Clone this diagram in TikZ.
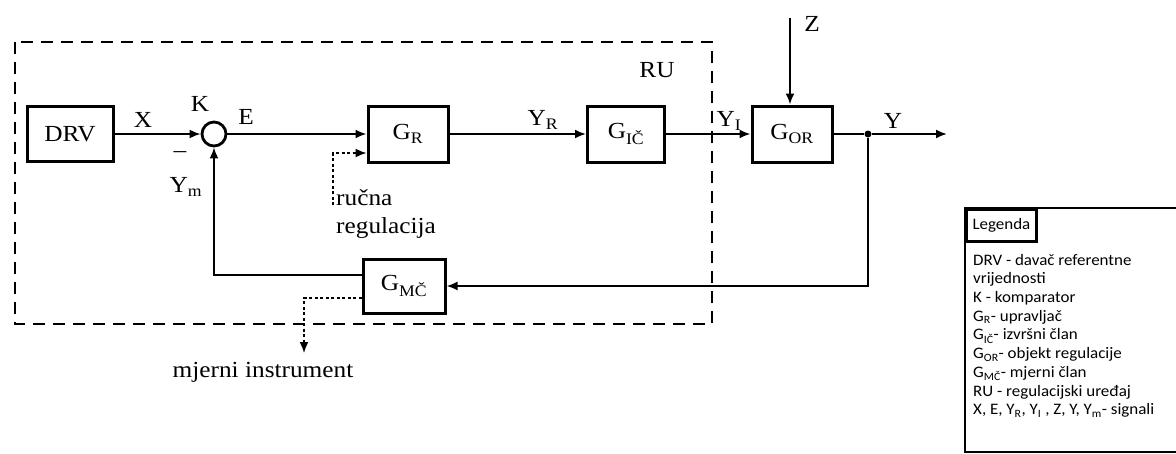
\documentclass[tikz,border=0pt]{standalone}
\usepackage{fontspec}
\setmainfont{Liberation Serif}[FakeStretch=1.1]
\newfontfamily\legfont{Carlito}[FakeStretch=1.06]
\usetikzlibrary{arrows.meta}
\newcommand\mysub[1]{\textsubscript{#1}}
\begin{document}
\begin{tikzpicture}[x=1pt,y=-1pt,
  every node/.style={font=\fontsize{23}{27}\selectfont},
  blk/.style={draw, line width=3pt, inner sep=0pt, minimum width=80pt, minimum height=56pt},
  conn/.style={line width=1.9pt},
  arr/.style={conn, -{Latex[length=11pt,width=9pt]}},
  dotarr/.style={line width=1.6pt, dash pattern=on 3pt off 2.5pt, -{Latex[length=11pt,width=9pt]}},
  lbl/.style={inner sep=0pt},
  legtxt/.style={inner sep=0pt, anchor=base west, font=\legfont\fontsize{16}{18}\selectfont}
]
\useasboundingbox (0,0) rectangle (1176,453);
\fill[white] (0,0) rectangle (1176,453);

% RU boundary
\draw[line width=2.8pt, dash pattern=on 12pt off 8pt] (15,42) rectangle (712,324);
\node[lbl] (ru) at (657,70) {RU};

% blocks
\node[blk, minimum width=86pt, minimum height=55pt] (drv) at (70,134) {DRV};
\node[draw, circle, line width=2.8pt, minimum size=24pt, inner sep=0pt] (k) at (214,134) {};
\node[blk] (gr) at (408,134) {G\mysub{R}};
\node[blk, minimum width=77pt] (gic) at (626,134) {G\mysub{IČ}};
\node[blk] (gor) at (792,134) {G\mysub{OR}};
\node[blk, minimum width=82pt, minimum height=54pt] (gmc) at (404,286) {G\mysub{MČ}};
\node[circle, fill, inner sep=0pt, minimum size=7pt] (j) at (868,134) {};

\coordinate (z) at (790,18);
\coordinate (yend) at (947,134);
\coordinate (man) at (333,205);
\coordinate (miend) at (304,353);

% connectors
\draw[arr] (drv.east) -- (k.west);
\draw[arr] (k.east) -- (gr.west);
\draw[arr] (gr.east) -- (gic.west);
\draw[arr] (gic.east) -- (gor.west);
\draw[arr] (z) -- (z |- gor.north);
\draw[conn] (gor.east) -- (j);
\draw[arr] (j) -- (yend);
\draw[arr] (j) |- (gmc.east);
\draw[arr] ([yshift=11pt]gmc.west) -| (k.south);
\draw[dotarr] (man) |- ([yshift=-19pt]gr.west);
\draw[dotarr] ([yshift=-12pt]gmc.west) -| (miend);

% labels
\node[lbl] (lx) at (143,120) {X};
\node[lbl] (lk) at (200,104) {K};
\node[lbl] (le) at (246,117) {E};
\node[lbl] (lminus) at (180,155) {\textendash};
\node[lbl] (lym) at (186,187) {Y\mysub{m}};
\node[lbl] (lyr) at (543,120) {Y\mysub{R}};
\node[lbl] (lyi) at (729,121) {Y\mysub{I}};
\node[lbl] (lz) at (812,24) {Z};
\node[lbl] (ly) at (893,121) {Y};
\node[inner sep=0pt, anchor=base west] (lruc) at (336,205) {ručna};
\node[inner sep=0pt, anchor=base west] (lreg) at (336,233) {regulacija};
\node[inner sep=0pt, anchor=base] (lmi) at (263,377) {mjerni instrument};

% legend
\draw[line width=2.8pt] (965,208) rectangle (1185,452);
\node[draw, line width=2.8pt, anchor=north west, minimum width=70pt, minimum height=32pt, inner sep=0pt,
      font=\legfont\fontsize{16}{18}\selectfont] (legh) at (965,208) {Legenda};
\node[legtxt] (l1) at (973,265) {DRV - davač referentne};
\node[legtxt] (l2) at (973,283.7) {vrijednosti};
\node[legtxt] (l3) at (973,302.4) {K - komparator};
\node[legtxt] (l4) at (973,321) {G\mysub{R}- upravljač};
\node[legtxt] (l5) at (973,339.8) {G\mysub{IČ}- izvršni član};
\node[legtxt] (l6) at (973,358.5) {G\mysub{OR}- objekt regulacije};
\node[legtxt] (l7) at (973,377) {G\mysub{MČ}- mjerni član};
\node[legtxt] (l8) at (973,396) {RU - regulacijski uređaj};
\node[legtxt] (l9) at (973,414.6) {X, E, Y\mysub{R}, Y\mysub{I} , Z, Y, Y\mysub{m}- signali};
\end{tikzpicture}
\end{document}
